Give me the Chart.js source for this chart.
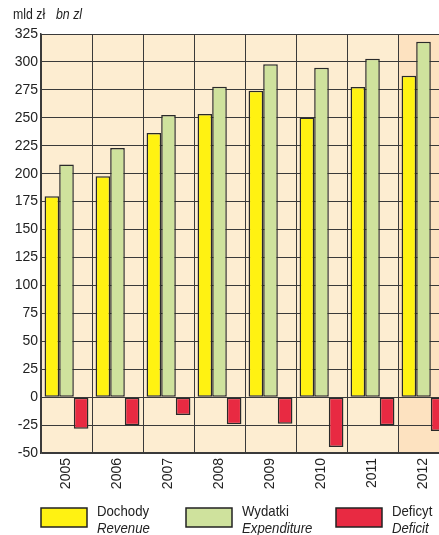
<!DOCTYPE html>
<html><head><meta charset="utf-8">
<script src="https://cdn.jsdelivr.net/npm/chart.js@4"></script>
<style>
html,body{margin:0;padding:0;overflow:hidden;background:#fff;width:439px;height:535px}
canvas{display:block}
</style></head>
<body>
<canvas id="c" width="460" height="535"></canvas>
<script>
const categories = ['2005','2006','2007','2008','2009','2010','2011','2012'];
const revenue = [179.8, 197.6, 236.4, 253.5, 274.2, 250.3, 277.6, 287.6];
const expenditure = [208.1, 223.0, 252.6, 277.8, 298.0, 294.9, 302.9, 318.0];
const deficit = [-28.4, -25.1, -16.0, -24.3, -23.8, -44.6, -25.1, -30.4];
const seriesPL = ['Dochody','Wydatki','Deficyt'];
const seriesEN = ['Revenue','Expenditure','Deficit'];
const yTicks = [-50,-25,0,25,50,75,100,125,150,175,200,225,250,275,300,325];

const FONT = "'Liberation Sans Narrow','Arial Narrow','Liberation Sans',sans-serif";
const colors = ['#fff212','#cfe29d','#e82a42'];

function narrowText(ctx, text, x, y, sx){
  ctx.save();
  ctx.translate(x, y);
  ctx.scale(sx, 1);
  ctx.fillText(text, 0, 0);
  ctx.restore();
}

const bgPlugin = {
  id:'bg',
  beforeDraw(chart){
    const {ctx, chartArea:a, scales:{x}} = chart;
    ctx.save();
    ctx.fillStyle = '#fdedd1';
    ctx.fillRect(a.left, a.top, a.right-a.left, a.bottom-a.top);
    const i = categories.length-1;
    const w = (x.getPixelForValue(1)-x.getPixelForValue(0));
    const cx = x.getPixelForValue(i);
    ctx.fillStyle = '#fde2c0';
    ctx.fillRect(cx-w/2, a.top, w, a.bottom-a.top);
    ctx.restore();
  },
  afterDraw(chart){
    const ctx = chart.ctx;
    ctx.save();
    ctx.fillStyle = '#222';
    ctx.textBaseline = 'alphabetic';
    ctx.textAlign = 'left';
    ctx.font = "14px " + FONT;
    narrowText(ctx, 'mld zł', 13, 19, 0.88);
    ctx.font = "italic 14px " + FONT;
    narrowText(ctx, 'bn zl', 56, 19, 0.88);
    // legend
    const boxX = [41,186,336];
    chart.data.datasets.forEach((ds,k)=>{
      const bx = boxX[k];
      ctx.fillStyle = ds.backgroundColor;
      ctx.fillRect(bx, 508, 46, 19);
      ctx.strokeStyle = '#222';
      ctx.lineWidth = 1.5;
      ctx.strokeRect(bx, 508, 46, 19);
      ctx.fillStyle = '#222';
      ctx.font = "15px " + FONT;
      narrowText(ctx, seriesPL[k], bx+56, 516, 0.88);
      ctx.font = "italic 15px " + FONT;
      narrowText(ctx, seriesEN[k], bx+56, 533, 0.88);
    });
    ctx.restore();
  }
};

new Chart(document.getElementById('c'), {
  type:'bar',
  data:{
    labels: categories,
    datasets:[
      {label:seriesPL[0], data:revenue, backgroundColor:colors[0]},
      {label:seriesPL[1], data:expenditure, backgroundColor:colors[1]},
      {label:seriesPL[2], data:deficit, backgroundColor:colors[2]}
    ].map(d=>Object.assign(d,{borderColor:'#2a2a2a', borderWidth:1.5, borderSkipped:false, categoryPercentage:0.86, barPercentage:1}))
  },
  options:{
    responsive:false,
    animation:false,
    layout:{padding:{left:0, top:34, right:11, bottom:0}},
    plugins:{legend:{display:false}, tooltip:{enabled:false}},
    scales:{
      x:{
        grid:{color:'#3a3a3a', lineWidth:1, offset:true, drawTicks:false},
        border:{color:'#3a3a3a', width:1.5},
        ticks:{color:'#222', font:{family:FONT, size:14}, minRotation:90, maxRotation:90, padding:5},
        afterFit(s){ s.height = 82; }
      },
      y:{
        min:-50, max:325,
        afterBuildTicks(s){ s.ticks = yTicks.map(v=>({value:v})); },
        grid:{color:'#3a3a3a', lineWidth:1, drawTicks:false},
        border:{color:'#3a3a3a', width:1.5},
        ticks:{color:'#222', font:{family:FONT, size:14}, padding:3},
        afterFit(s){ s.width = 41; }
      }
    }
  },
  plugins:[bgPlugin]
});
</script>
</body></html>
